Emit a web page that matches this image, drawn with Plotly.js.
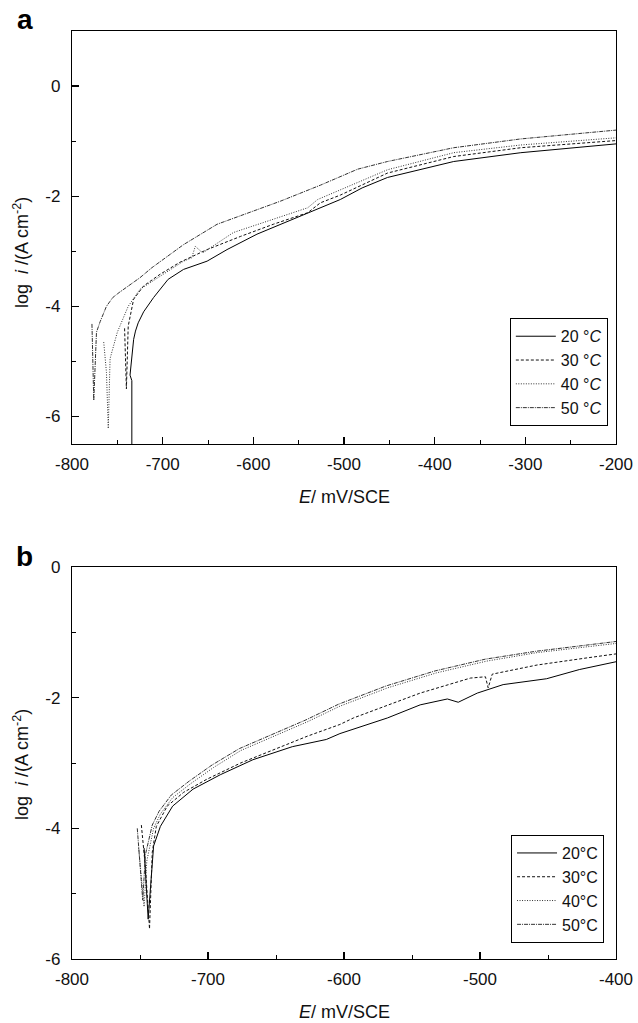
<!DOCTYPE html>
<html>
<head>
<meta charset="utf-8">
<script src="https://cdn.plot.ly/plotly-3.0.1.min.js"></script>
<style>
html,body{margin:0;padding:0;background:#fff;}
#chart{width:638px;height:1023px;}
</style>
</head>
<body>
<div id="chart"></div>
<script>
// ---- Panel a data (E in mV/SCE, log i) ----
const a20E = [-734, -734, -736, -732, -730, -727, -721, -710, -694, -677, -651, -629, -596, -562, -529, -504, -480, -452, -379, -305, -200];
const a20L = [-6.6, -5.35, -5.25, -4.6, -4.45, -4.3, -4.1, -3.84, -3.51, -3.33, -3.18, -2.97, -2.69, -2.46, -2.24, -2.06, -1.85, -1.66, -1.37, -1.21, -1.05];

const a30E = [-742, -741, -740, -738, -732, -721, -703, -681, -651, -614, -578, -540, -526, -504, -452, -379, -305, -200];
const a30L = [-4.4, -4.8, -5.5, -4.36, -3.87, -3.63, -3.42, -3.2, -2.97, -2.73, -2.51, -2.3, -2.12, -1.98, -1.58, -1.28, -1.12, -0.99];

const a40E = [-765, -762, -760, -758, -750, -745, -738, -725, -703, -677, -668, -664, -658, -655, -622, -578, -540, -529, -452, -379, -305, -200];
const a40L = [-4.65, -5.2, -6.22, -4.95, -4.47, -4.28, -4.0, -3.69, -3.45, -3.18, -3.12, -2.91, -3.0, -3.02, -2.66, -2.42, -2.21, -2.06, -1.52, -1.21, -1.07, -0.94];

const a50E = [-778, -777, -776, -773, -769, -762, -755, -748, -740, -725, -712, -699, -677, -640, -600, -570, -526, -485, -452, -426, -379, -305, -200];
const a50L = [-4.32, -5.0, -5.71, -4.47, -4.28, -4.0, -3.84, -3.75, -3.66, -3.48, -3.3, -3.15, -2.88, -2.51, -2.27, -2.09, -1.8, -1.51, -1.37, -1.28, -1.12, -0.96, -0.80];

// ---- Panel b data ----
const b20E = [-747, -745, -744, -740, -735, -726, -711, -691, -667, -638, -613, -603, -568, -544, -524, -516, -502, -483, -451, -427, -400];
const b20L = [-4.3, -5.0, -5.39, -4.27, -3.97, -3.66, -3.4, -3.18, -2.95, -2.75, -2.64, -2.55, -2.31, -2.11, -2.02, -2.07, -1.93, -1.8, -1.71, -1.57, -1.45];

const b30E = [-749, -746, -743, -741, -738, -730, -718, -701, -676, -652, -627, -603, -593, -544, -507, -496, -494, -491, -458, -421, -400];
const b30L = [-3.95, -4.6, -5.54, -4.37, -3.97, -3.66, -3.45, -3.25, -3.0, -2.8, -2.59, -2.41, -2.31, -1.93, -1.7, -1.68, -1.85, -1.64, -1.5, -1.39, -1.33];

const b40E = [-751, -749, -747, -745, -740, -735, -726, -713, -696, -676, -652, -627, -603, -568, -532, -495, -458, -421, -400];
const b40L = [-4.3, -4.7, -5.2, -4.5, -4.0, -3.78, -3.53, -3.32, -3.07, -2.81, -2.6, -2.37, -2.13, -1.85, -1.62, -1.44, -1.31, -1.22, -1.17];

const b50E = [-752, -750, -748, -746, -741, -736, -727, -714, -697, -677, -653, -628, -604, -569, -533, -496, -459, -422, -400];
const b50L = [-4.0, -4.5, -5.1, -4.4, -3.95, -3.74, -3.49, -3.28, -3.03, -2.78, -2.57, -2.34, -2.1, -1.82, -1.59, -1.41, -1.29, -1.2, -1.14];

const namesA = ['20 °<i>C</i>', '30 °<i>C</i>', '40 °<i>C</i>', '50 °<i>C</i>'];
const namesB = ['20°C', '30°C', '40°C', '50°C'];

// tick values and labels (hyphen minus, as in the reference)
const xTicksA = [-800, -700, -600, -500, -400, -300, -200];
const xTicksB = [-800, -700, -600, -500, -400];
const yTicksA = [0, -2, -4, -6];
const yTicksB = [0, -2, -4, -6];
const lbl = v => String(v);

const FONT = 'Arial, "Liberation Sans", Helvetica, sans-serif';
const dashes = ['solid', '3px,2px', '1px,1.5px', '4px,1px,1px,1px'];
const colors = ['#000', '#111', '#333', '#333'];

const seriesA = [[a20E, a20L], [a30E, a30L], [a40E, a40L], [a50E, a50L]];
const seriesB = [[b20E, b20L], [b30E, b30L], [b40E, b40L], [b50E, b50L]];

const traces = [];
seriesA.forEach((s, i) => traces.push({
  x: s[0], y: s[1], type: 'scatter', mode: 'lines', name: namesA[i],
  xaxis: 'x', yaxis: 'y', legend: 'legend',
  line: {color: colors[i], width: 1, dash: dashes[i]}
}));
seriesB.forEach((s, i) => traces.push({
  x: s[0], y: s[1], type: 'scatter', mode: 'lines', name: namesB[i],
  xaxis: 'x2', yaxis: 'y2', legend: 'legend2',
  line: {color: colors[i], width: 1, dash: dashes[i]}
}));

const axisCommon = {
  showline: true, mirror: true, linecolor: '#000', linewidth: 1.2,
  showgrid: false, zeroline: false,
  ticks: 'inside', ticklen: 7, tickwidth: 1.2, tickcolor: '#000',
  tickfont: {family: FONT, size: 17, color: '#111'},
  tickmode: 'array',
  fixedrange: true
};

const layout = {
  width: 638, height: 1023,
  margin: {l: 72, r: 22, t: 31, b: 64},
  paper_bgcolor: '#fff', plot_bgcolor: '#fff',
  font: {family: FONT, color: '#111'},
  showlegend: true,
  xaxis: Object.assign({}, axisCommon, {
    domain: [0, 1], anchor: 'y', range: [-800, -200],
    tickvals: xTicksA, ticktext: xTicksA.map(lbl),
    ticklabelstandoff: 4,
    minor: {ticks: 'inside', ticklen: 4, dtick: 50, tick0: -800, tickcolor: '#000', tickwidth: 1}
  }),
  yaxis: Object.assign({}, axisCommon, {
    domain: [0.555, 1], anchor: 'x', range: [-6.5, 1],
    tickvals: yTicksA, ticktext: yTicksA.map(lbl),
    ticklabelstandoff: 7,
    minor: {ticks: 'inside', ticklen: 4, dtick: 1, tick0: 0, tickcolor: '#000', tickwidth: 1}
  }),
  xaxis2: Object.assign({}, axisCommon, {
    domain: [0, 1], anchor: 'y2', range: [-800, -400],
    tickvals: xTicksB, ticktext: xTicksB.map(lbl),
    ticklabelstandoff: 4,
    minor: {ticks: 'inside', ticklen: 4, dtick: 50, tick0: -800, tickcolor: '#000', tickwidth: 1}
  }),
  yaxis2: Object.assign({}, axisCommon, {
    domain: [0, 0.4224], anchor: 'x2', range: [-6, 0],
    tickvals: yTicksB, ticktext: yTicksB.map(lbl),
    ticklabelstandoff: 7,
    minor: {ticks: 'inside', ticklen: 4, dtick: 1, tick0: 0, tickcolor: '#000', tickwidth: 1}
  }),
  legend: {
    x: 0.985, y: 0.574, xanchor: 'right', yanchor: 'bottom',
    bgcolor: '#fff', bordercolor: '#000', borderwidth: 1,
    font: {family: FONT, size: 16, color: '#111'},
    tracegroupgap: 0, itemwidth: 40
  },
  legend2: {
    x: 0.978, y: 0.0172, xanchor: 'right', yanchor: 'bottom',
    bgcolor: '#fff', bordercolor: '#000', borderwidth: 1,
    font: {family: FONT, size: 16, color: '#111'},
    tracegroupgap: 0, itemwidth: 40
  },
  annotations: [
    {text: '<b>a</b>', xref: 'paper', yref: 'paper', x: -0.0864, y: 1.0129,
     xanchor: 'center', yanchor: 'middle', showarrow: false,
     font: {family: FONT, size: 28, color: '#000'}},
    {text: '<b>b</b>', xref: 'paper', yref: 'paper', x: -0.0864, y: 0.4332,
     xanchor: 'center', yanchor: 'middle', showarrow: false,
     font: {family: FONT, size: 28, color: '#000'}},
    {text: '<i>E</i>/ mV/SCE', xref: 'paper', yref: 'paper', x: 0.5, y: 0.4978,
     xanchor: 'center', yanchor: 'middle', showarrow: false,
     font: {family: FONT, size: 18, color: '#111'}},
    {text: '<i>E</i>/ mV/SCE', xref: 'paper', yref: 'paper', x: 0.5, y: -0.0571,
     xanchor: 'center', yanchor: 'middle', showarrow: false,
     font: {family: FONT, size: 18, color: '#111'}},
    {text: 'log  <i>i</i> /(A cm<sup>-2</sup>)', xref: 'paper', yref: 'paper', x: -0.0938, y: 0.7618,
     xanchor: 'center', yanchor: 'middle', showarrow: false, textangle: -90,
     font: {family: FONT, size: 18, color: '#111'}},
    {text: 'log  <i>i</i> /(A cm<sup>-2</sup>)', xref: 'paper', yref: 'paper', x: -0.0938, y: 0.2101,
     xanchor: 'center', yanchor: 'middle', showarrow: false, textangle: -90,
     font: {family: FONT, size: 18, color: '#111'}}
  ]
};

Plotly.newPlot('chart', traces, layout, {staticPlot: true, displayModeBar: false});
</script>
</body>
</html>
